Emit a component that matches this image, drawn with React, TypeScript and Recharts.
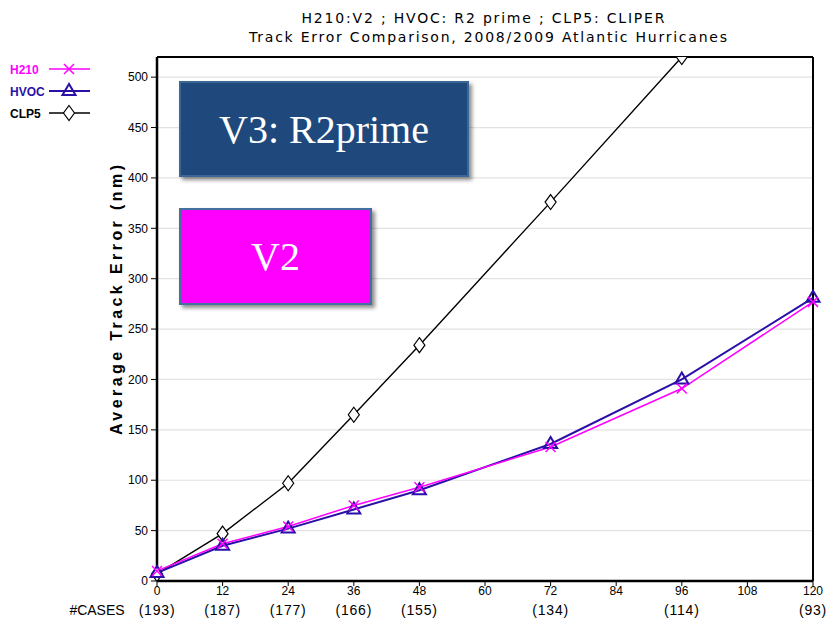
import React from 'react';
import { LineChart, Line, XAxis, YAxis, CartesianGrid, Legend, ReferenceLine } from 'recharts';

const hours = [0, 12, 24, 36, 48, 72, 96, 120];
const h210 = [10, 37, 54, 75, 93, 133, 191, 277];
const hvoc = [8, 35, 52, 71, 90, 136, 200, 281];
const clp5: (number | null)[] = [7, 47, 97, 165, 234, 376, 520, null];
const cases = [193, 187, 177, 166, 155, 134, 114, 93];
const xTicks = [0, 12, 24, 36, 48, 60, 72, 84, 96, 108, 120];
const yTicks = [0, 50, 100, 150, 200, 250, 300, 350, 400, 450, 500];
const xMax = 120;
const yMax = 520;
const titleLines = [
  'H210:V2 ; HVOC: R2 prime ; CLP5: CLIPER',
  'Track Error Comparison, 2008/2009 Atlantic Hurricanes',
];
const yLabel = 'Average Track Error (nm)';
const casesLabel = '#CASES';
const boxLabels = ['V3: R2prime', 'V2'];

const COLORS: Record<string, string> = { H210: '#ff00ff', HVOC: '#2a10a8', CLP5: '#000000' };

const data = hours.map((h, i) => ({ hour: h, H210: h210[i], HVOC: hvoc[i], CLP5: clp5[i] }));

const Marker = ({ kind, cx, cy }: { kind: string; cx: number; cy: number }) => {
  if (cx == null || cy == null || isNaN(cx) || isNaN(cy)) return null;
  if (kind === 'H210') {
    return (
      <g stroke={COLORS.H210} strokeWidth={1.5} fill="none">
        <line x1={cx - 5} y1={cy - 5} x2={cx + 5} y2={cy + 5} />
        <line x1={cx - 5} y1={cy + 5} x2={cx + 5} y2={cy - 5} />
      </g>
    );
  }
  if (kind === 'HVOC') {
    return (
      <polygon
        points={`${cx},${cy - 7} ${cx - 6.5},${cy + 4} ${cx + 6.5},${cy + 4}`}
        fill="none"
        stroke={COLORS.HVOC}
        strokeWidth={2}
      />
    );
  }
  return (
    <polygon
      points={`${cx},${cy - 7.5} ${cx + 5.5},${cy} ${cx},${cy + 7.5} ${cx - 5.5},${cy}`}
      fill="#fff"
      stroke="#000"
      strokeWidth={1.2}
    />
  );
};

const makeDot = (kind: string) => (props: any) => (
  <Marker key={`${kind}-${props.index}`} kind={kind} cx={props.cx} cy={props.cy} />
);

const XTick = (props: any) => {
  const { x, y, payload } = props;
  const idx = hours.indexOf(payload.value);
  const font = { fontFamily: 'Liberation Sans, Arial, sans-serif', fill: '#000' };
  return (
    <g>
      <text x={x} y={y + 8} textAnchor="middle" fontSize={12} {...font}>
        {payload.value}
      </text>
      {idx >= 0 && (
        <text x={x} y={y + 28} textAnchor="middle" fontSize={14} letterSpacing={0.8} {...font}>
          ({cases[idx]})
        </text>
      )}
      {payload.value === 0 && (
        <text x={x - 60} y={y + 28} textAnchor="middle" fontSize={14} {...font}>
          {casesLabel}
        </text>
      )}
    </g>
  );
};

const LegendContent = (props: any) => {
  const items = ['H210', 'HVOC', 'CLP5'];
  return (
    <svg width={100} height={70}>
      {items.map((name, i) => {
        const cy = 13 + i * 22;
        return (
          <g key={name}>
            <text
              x={10}
              y={cy + 5}
              fontSize={12}
              fontWeight="bold"
              fontFamily="Liberation Sans, Arial, sans-serif"
              fill={COLORS[name]}
            >
              {name}
            </text>
            <line x1={49} y1={cy} x2={90} y2={cy} stroke={COLORS[name]} strokeWidth={name === 'HVOC' ? 2 : 1.5} />
            <Marker kind={name} cx={69} cy={cy} />
          </g>
        );
      })}
    </svg>
  );
};

const YLabel = (props: any) => {
  const vb = props.viewBox || { x: 117, y: 57, width: 40, height: 524 };
  const x = vb.x + 5;
  const y = vb.y + vb.height / 2 - 19;
  return (
    <text
      x={x}
      y={y}
      transform={`rotate(-90, ${x}, ${y})`}
      textAnchor="middle"
      fontSize={16}
      fontWeight="bold"
      fontFamily="Liberation Sans, Arial, sans-serif"
      textLength={270}
      lengthAdjust="spacing"
      fill="#000"
    >
      {yLabel}
    </text>
  );
};

const boxStyle: React.CSSProperties = {
  position: 'absolute',
  boxSizing: 'border-box',
  display: 'flex',
  alignItems: 'center',
  justifyContent: 'center',
  color: '#fff',
  fontFamily: 'Liberation Serif, Times New Roman, serif',
  fontSize: 40,
  boxShadow: '3px 3px 4px rgba(0,0,0,0.45)',
};

export default function App() {
  return (
    <div style={{ position: 'absolute', left: 0, top: 0, width: 827, height: 623, background: '#fff' }}>
      <LineChart width={827} height={623} data={data} margin={{ top: 57, right: 14, bottom: 0, left: 117 }}>
        <CartesianGrid vertical={false} stroke="#e2e2e2" strokeWidth={1.2} />
        <XAxis
          dataKey="hour"
          type="number"
          domain={[0, xMax]}
          ticks={xTicks}
          interval={0}
          height={42}
          axisLine={{ stroke: '#000', strokeWidth: 2.5 }}
          tickLine={{ stroke: '#000' }}
          tickSize={5}
          tickMargin={1}
          tick={<XTick />}
        />
        <YAxis
          type="number"
          domain={[0, yMax]}
          ticks={yTicks}
          interval={0}
          allowDataOverflow
          width={40}
          axisLine={{ stroke: '#000', strokeWidth: 2.5 }}
          tickLine={{ stroke: '#000' }}
          tickSize={6}
          tickMargin={3}
          tick={{ fontSize: 12, fill: '#000', fontFamily: 'Liberation Sans, Arial, sans-serif' }}
          label={{ content: <YLabel /> }}
        />
        <ReferenceLine y={yMax} stroke="#000" strokeWidth={2} />
        <ReferenceLine x={xMax} stroke="#000" strokeWidth={2} />
        <Legend
          layout="vertical"
          align="center"
          verticalAlign="middle"
          content={<LegendContent />}
          wrapperStyle={{ left: 0, top: 56, width: 100, height: 70 }}
        />
        <Line
          dataKey="CLP5"
          stroke={COLORS.CLP5}
          strokeWidth={1.4}
          dot={makeDot('CLP5')}
          isAnimationActive={false}
          connectNulls={false}
        />
        <Line dataKey="HVOC" stroke={COLORS.HVOC} strokeWidth={2} dot={makeDot('HVOC')} isAnimationActive={false} />
        <Line dataKey="H210" stroke={COLORS.H210} strokeWidth={1.5} dot={makeDot('H210')} isAnimationActive={false} />
      </LineChart>
      <svg width={827} height={50} style={{ position: 'absolute', left: 0, top: 0, pointerEvents: 'none' }}>
        <text
          x={483}
          y={23}
          textAnchor="middle"
          fontSize={14}
          fontFamily="DejaVu Sans, sans-serif"
          textLength={363}
          lengthAdjust="spacing"
          fill="#000"
        >
          {titleLines[0]}
        </text>
        <text
          x={488}
          y={42}
          textAnchor="middle"
          fontSize={14}
          fontFamily="DejaVu Sans, sans-serif"
          textLength={478}
          lengthAdjust="spacing"
          fill="#000"
        >
          {titleLines[1]}
        </text>
      </svg>
      <div
        style={{
          ...boxStyle,
          left: 179,
          top: 81,
          width: 290,
          height: 96,
          background: '#1f497d',
          border: '2px solid #3a6796',
        }}
      >
        {boxLabels[0]}
      </div>
      <div
        style={{
          ...boxStyle,
          left: 179,
          top: 208,
          width: 193,
          height: 97,
          background: '#ff00ff',
          border: '2px solid #41719c',
        }}
      >
        {boxLabels[1]}
      </div>
    </div>
  );
}
